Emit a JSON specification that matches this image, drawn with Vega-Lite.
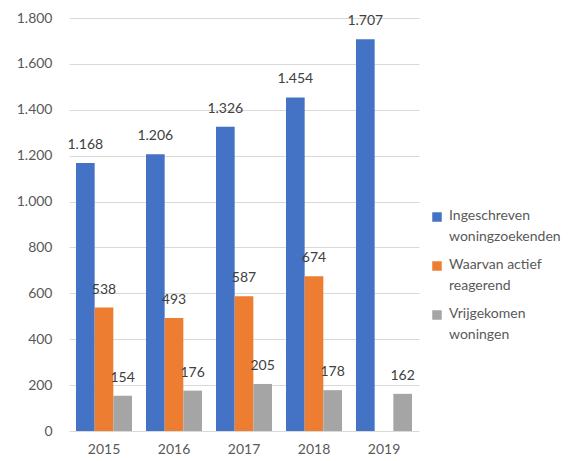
{
  "$schema": "https://vega.github.io/schema/vega-lite/v6.json",
  "autosize": "none",
  "width": 350,
  "height": 413,
  "padding": {"left": 69, "top": 18, "right": 166, "bottom": 30},
  "background": "white",
  "config": {
    "locale": {"number": {"decimal": ",", "thousands": ".", "grouping": [3], "currency": ["€", ""]}},
    "font": "Lato",
    "view": {"stroke": null}
  },
  "data": {
    "values": [
      {"jaar": "2015", "reeks": "Ingeschreven woningzoekenden", "waarde": 1168},
      {"jaar": "2015", "reeks": "Waarvan actief reagerend", "waarde": 538},
      {"jaar": "2015", "reeks": "Vrijgekomen woningen", "waarde": 154},
      {"jaar": "2016", "reeks": "Ingeschreven woningzoekenden", "waarde": 1206},
      {"jaar": "2016", "reeks": "Waarvan actief reagerend", "waarde": 493},
      {"jaar": "2016", "reeks": "Vrijgekomen woningen", "waarde": 176},
      {"jaar": "2017", "reeks": "Ingeschreven woningzoekenden", "waarde": 1326},
      {"jaar": "2017", "reeks": "Waarvan actief reagerend", "waarde": 587},
      {"jaar": "2017", "reeks": "Vrijgekomen woningen", "waarde": 205},
      {"jaar": "2018", "reeks": "Ingeschreven woningzoekenden", "waarde": 1454},
      {"jaar": "2018", "reeks": "Waarvan actief reagerend", "waarde": 674},
      {"jaar": "2018", "reeks": "Vrijgekomen woningen", "waarde": 178},
      {"jaar": "2019", "reeks": "Ingeschreven woningzoekenden", "waarde": 1707},
      {"jaar": "2019", "reeks": "Waarvan actief reagerend", "waarde": null},
      {"jaar": "2019", "reeks": "Vrijgekomen woningen", "waarde": 162}
    ]
  },
  "encoding": {
    "x": {
      "field": "jaar", "type": "nominal",
      "scale": {"paddingInner": 0.2, "paddingOuter": 0.1},
      "axis": {"title": null, "labelAngle": 0, "ticks": false, "domain": false, "labelFontSize": 14, "labelColor": "#595959", "labelPadding": 11, "labelFont": "Lato"}
    },
    "xOffset": {
      "field": "reeks", "type": "nominal",
      "sort": ["Ingeschreven woningzoekenden", "Waarvan actief reagerend", "Vrijgekomen woningen"],
      "scale": {"paddingInner": 0, "paddingOuter": 0}
    },
    "y": {
      "field": "waarde", "type": "quantitative",
      "scale": {"domain": [0, 1800], "nice": false},
      "axis": {"title": null, "values": [0, 200, 400, 600, 800, 1000, 1200, 1400, 1600, 1800], "format": ",.0f", "ticks": false, "domain": false, "gridColor": "#d9d9d9", "gridWidth": 1, "labelFontSize": 14, "labelColor": "#595959", "labelPadding": 17, "labelFont": "Lato"}
    }
  },
  "layer": [
    {
      "mark": {"type": "bar"},
      "encoding": {
        "color": {
          "field": "reeks", "type": "nominal",
          "sort": ["Ingeschreven woningzoekenden", "Waarvan actief reagerend", "Vrijgekomen woningen"],
          "scale": {"domain": ["Ingeschreven woningzoekenden", "Waarvan actief reagerend", "Vrijgekomen woningen"], "range": ["#4472C4", "#ED7D31", "#A5A5A5"]},
          "legend": {
            "title": null,
            "orient": "none",
            "legendX": 361,
            "legendY": 192,
            "symbolType": "square",
            "symbolSize": 90,
            "symbolStrokeWidth": 0,
            "labelFontSize": 14,
            "labelColor": "#595959",
            "labelFont": "Lato",
            "labelLimit": 200,
            "labelOffset": 5,
            "labelBaseline": "top",
            "rowPadding": 14,
            "labelExpr": "datum.label == 'Ingeschreven woningzoekenden' ? ['Ingeschreven', 'woningzoekenden'] : datum.label == 'Waarvan actief reagerend' ? ['Waarvan actief', 'reagerend'] : ['Vrijgekomen', 'woningen']",
            "encode": {
              "labels": {"update": {"lineHeight": {"value": 21}, "dy": {"value": -8}}}
            }
          }
        }
      }
    },
    {
      "mark": {"type": "text", "dy": -18, "fontSize": 14, "color": "#404040", "font": "Lato"},
      "encoding": {
        "text": {"field": "waarde", "type": "quantitative", "format": ","}
      }
    }
  ]
}
